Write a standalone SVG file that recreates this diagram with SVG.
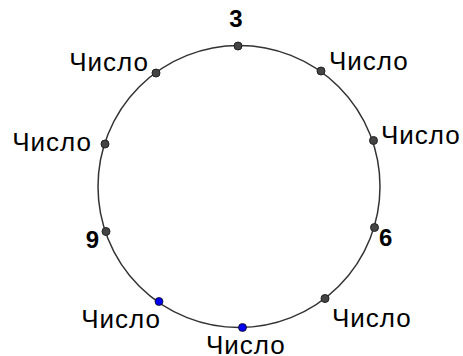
<svg xmlns="http://www.w3.org/2000/svg" width="463" height="356" viewBox="0 0 463 356">
<style>
.lbl{font-family:"Liberation Sans",Arial,sans-serif;font-size:26px;letter-spacing:1px;fill:#000}
.num{font-family:"Liberation Sans",Arial,sans-serif;font-size:24px;font-weight:bold;fill:#000}
.pt{fill:#444;stroke:#222;stroke-width:1}
.bp{fill:#0000ee;stroke:#111;stroke-width:0.8}
</style>
<rect width="463" height="356" fill="#fff"/>
<g id="circle"><circle cx="239" cy="186.5" r="141" fill="none" stroke="#333" stroke-width="1.5"/></g>
<g id="p-top"><circle class="pt" cx="238" cy="46" r="4"/><text class="num" x="236" y="27" text-anchor="middle">3</text></g>
<g id="p-ul"><circle class="pt" cx="156" cy="73" r="4"/><text class="lbl" x="149" y="71" text-anchor="end">Число</text></g>
<g id="p-ur"><circle class="pt" cx="321" cy="71" r="4"/><text class="lbl" x="329" y="70">Число</text></g>
<g id="p-l"><circle class="pt" cx="105" cy="144" r="4"/><text class="lbl" x="92" y="151" text-anchor="end">Число</text></g>
<g id="p-r"><circle class="pt" cx="373.5" cy="140.5" r="4"/><text class="lbl" x="381" y="144">Число</text></g>
<g id="p-9"><circle class="pt" cx="106" cy="231.5" r="4"/><text class="num" x="99" y="248" text-anchor="end">9</text></g>
<g id="p-6"><circle class="pt" cx="374.5" cy="227.5" r="4"/><text class="num" x="379" y="246">6</text></g>
<g id="p-bl"><circle class="bp" cx="159" cy="301.5" r="4"/><text class="lbl" x="161" y="327.5" text-anchor="end">Число</text></g>
<g id="p-b"><circle class="bp" cx="242.5" cy="327.5" r="4"/><text class="lbl" x="206" y="354">Число</text></g>
<g id="p-br"><circle class="pt" cx="325" cy="298.5" r="4"/><text class="lbl" x="332" y="327">Число</text></g>
</svg>
